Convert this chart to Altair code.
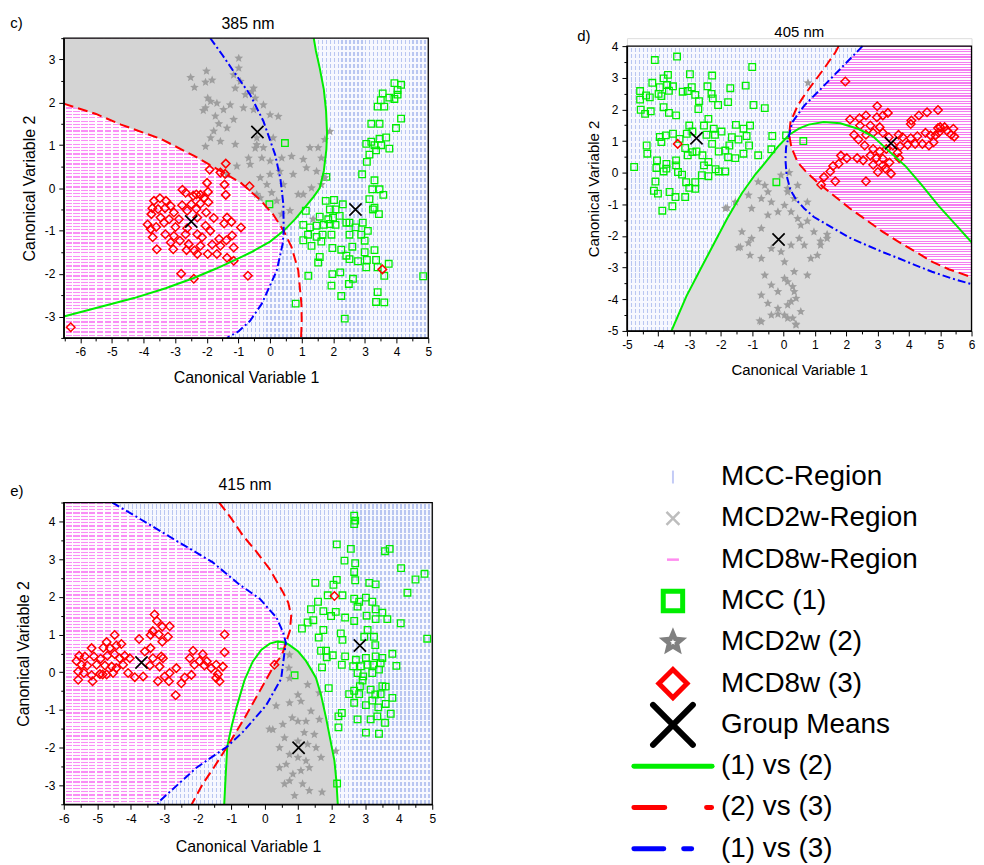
import math
import altair as alt
import pandas as pd

FONT = "Liberation Sans"
GREEN = "#00ee00"
RED = "#ff0000"
BLUE = "#0000ff"
STAR_GREY = "#9e9e9e"

# ------------------------------------------------------------------ panel c) 385 nm
c_mcc = [(3.93,2.45),(4.14,2.41),(4.03,2.29),(3.56,2.21),(3.77,2.11),(3.93,2.08),(4.03,2.18),(3.40,1.90),(3.61,1.90),
         (3.50,2.05),(4.14,1.62),(3.20,1.50),(3.46,1.50),(3.98,1.40),(3.67,1.18),(3.46,1.15),(3.20,1.08),(3.04,1.03),
         (3.30,1.00),(3.51,1.00),(3.77,0.92),(3.35,0.88),(3.14,0.78),(3.06,0.61),(2.91,0.32),(3.30,0.18),(3.23,-0.03),
         (3.46,-0.03),(3.58,-0.16),(3.14,-0.26),(3.30,-0.46),(3.44,-0.61),(3.25,-0.50),(0.47,1.05),(1.78,0.26),
         (1.76,-0.30),(2.02,-0.28),(2.30,-0.38),(1.13,-0.53),(1.89,-0.50),(2.07,-0.50),(1.57,-0.67),(1.84,-0.73),
         (1.99,-0.69),(2.20,-0.65),(2.41,-0.81),(1.05,-0.86),(1.26,-0.92),(1.47,-0.88),(1.70,-0.86),(1.89,-0.84),
         (2.07,-0.86),(2.51,-0.81),(2.70,-0.92),(2.93,-0.81),(3.09,-1.00),(1.20,-1.09),(1.47,-1.14),(1.66,-1.09),
         (1.94,-1.09),(2.51,-1.09),(2.88,-1.09),(1.05,-1.22),(1.62,-1.25),(1.31,-1.35),(2.99,-1.23),(1.97,-1.40),
         (2.25,-1.44),(2.60,-1.37),(2.99,-1.50),(3.30,-1.45),(2.41,-1.58),(1.57,-1.61),(2.51,-1.66),(2.78,-1.71),
         (3.06,-1.68),(3.35,-1.68),(1.52,-1.74),(3.04,-1.85),(3.40,-1.85),(3.75,-1.77),(3.61,-2.05),(1.21,-2.05),
         (1.97,-2.01),(2.22,-1.97),(2.62,-2.12),(2.49,-2.24),(1.94,-2.28),(0.81,-2.70),(3.40,-2.43),(3.35,-2.66),
         (3.61,-2.67),(2.25,-2.52),(2.36,-3.05),(4.84,-2.06),(-0.02,-0.38)]
c_mcd2w = [(-2.51,2.58),(-2.39,2.35),(-2.01,2.73),(-2.04,2.47),(-1.83,2.52),(-1.97,2.10),(-2.04,1.87),(-1.88,2.02),
           (-2.11,1.81),(-1.68,1.98),(-1.73,1.68),(-1.62,1.50),(-1.78,1.33),(-2.04,0.97),(-1.88,1.17),(-1.57,1.09),
           (-1.47,1.83),(-1.26,1.94),(-1.15,1.60),(-1.36,1.40),(-1.10,1.02),(-0.99,3.03),(-0.99,2.80),(-1.15,2.64),
           (-1.10,2.33),(-0.94,2.49),(-0.78,2.18),(-0.84,1.87),(-0.58,2.25),(-0.52,1.83),(-0.42,1.17),(-0.68,0.70),
           (-0.47,0.93),(-1.05,0.51),(-1.36,0.32),(-0.52,2.33),(-0.47,2.10),(-0.21,1.94),(0.00,1.71),(0.26,1.67),
           (-0.42,1.01),(-0.21,0.94),(0.10,1.17),(-0.26,0.70),(-0.63,0.55),(0.00,0.63),(0.37,0.70),(0.68,0.74),
           (1.05,0.67),(1.26,0.94),(1.52,0.94),(1.62,0.70),(1.47,0.39),(1.15,0.47),(0.73,0.32),(0.31,0.39),
           (0.00,0.32),(-0.31,0.24),(-0.10,0.08),(0.42,0.08),(0.89,-0.15),(1.31,0.00),(1.73,0.24),(1.89,1.32),
           (1.73,1.13),(1.62,0.08),(0.05,-0.11),(-0.31,-0.23),(0.21,-0.30),(0.37,-0.61),(0.63,-0.53),(1.36,-0.73),
           (1.05,-0.15),(-0.42,-0.15)]
c_mcd8w = [(-1.40,0.57),(-1.91,0.43),(-1.57,0.36),(-1.42,0.33),(-1.99,0.12),(-0.65,0.04),(-1.44,0.08),(-1.40,-0.16),
           (-2.77,-0.04),(-2.67,-0.11),(-1.96,-0.09),(-2.20,-0.16),(-2.43,-0.18),(-2.33,-0.15),(-2.09,-0.23),
           (-3.67,-0.30),(-3.48,-0.24),(-3.29,-0.30),(-2.78,-0.40),(-2.49,-0.38),(-2.20,-0.36),(-1.95,-0.33),
           (-3.72,-0.47),(-3.54,-0.49),(-3.32,-0.47),(-3.14,-0.42),(-3.04,-0.57),(-2.62,-0.53),(-2.33,-0.49),
           (-2.02,-0.57),(-3.75,-0.61),(-3.46,-0.69),(-3.19,-0.73),(-2.88,-0.73),(-2.30,-0.69),(-1.78,-0.70),
           (-1.36,-0.69),(-1.22,-0.79),(-3.87,-0.85),(-3.60,-0.91),(-3.35,-0.81),(-2.99,-0.91),(-2.62,-0.94),
           (-2.04,-0.88),(-1.45,-0.83),(-0.92,-0.92),(-3.77,-0.96),(-3.31,-1.08),(-3.04,-1.12),(-2.67,-1.08),
           (-2.30,-1.08),(-1.89,-1.00),(-1.61,-1.19),(-1.20,-1.11),(-3.71,-1.15),(-3.14,-1.27),(-2.85,-1.23),
           (-2.15,-1.15),(-2.57,-1.31),(-2.20,-1.35),(-1.83,-1.32),(-1.57,-1.35),(-1.38,-1.22),(-1.15,-1.39),
           (-3.58,-1.43),(-3.06,-1.43),(-2.64,-1.45),(-2.30,-1.54),(-1.97,-1.54),(-1.68,-1.54),(-1.36,-1.63),
           (-1.15,-1.70),(-2.39,-1.46),(-2.81,-2.00),(-2.41,-2.12),(-0.70,-2.05),(-6.30,-3.25),(3.55,-1.90)]
c_means = [(2.70,-0.50),(-0.40,1.31),(-2.49,-0.78)]
c_green_a = [(-6.52,-3.0),(-5.5,-2.8),(-4.3,-2.57),(-3.3,-2.34),(-2.41,-2.1),(-1.7,-1.88),(-1.1,-1.68),(-0.6,-1.5),
             (0.0,-1.25),(0.43,-1.0)]
c_green_b = [(0.43,-1.0),(0.8,-0.72),(1.05,-0.5),(1.38,-0.2),(1.57,0.0),(1.70,0.4),(1.78,0.9),(1.80,1.3),(1.77,1.8),
             (1.70,2.3),(1.57,2.8),(1.45,3.2),(1.38,3.5)]
c_red_a = [(-6.52,1.97),(-5.5,1.73),(-4.71,1.48),(-3.46,1.15),(-2.4,0.75),(-1.57,0.40),(-0.92,0.12),(-0.28,-0.3),
           (0.1,-0.62),(0.43,-1.0)]
c_red_b = [(0.43,-1.0),(0.68,-1.38),(0.89,-1.92),(0.99,-2.7),(1.0,-3.1),(0.98,-3.5)]
c_blue_a = [(-1.89,3.5),(-1.5,3.1),(-1.15,2.72),(-0.63,2.18),(-0.21,1.56),(0.16,0.78),(0.33,0.2),(0.42,-0.38),(0.43,-1.0)]
c_blue_b = [(0.43,-1.0),(0.40,-1.3),(0.21,-1.93),(-0.26,-2.70),(-0.63,-3.1),(-1.0,-3.35),(-1.36,-3.5)]

# ------------------------------------------------------------------ panel d) 405 nm
d_mcc = [(-4.11,3.56),(-3.40,3.67),(-1.00,3.34),(-3.69,3.09),(-3.83,2.98),(-4.19,2.84),(-3.95,2.70),(-3.72,2.77),
         (-3.53,2.73),(-2.99,3.11),(-2.28,3.07),(-2.43,2.73),(-1.70,2.67),(-1.21,2.75),(-4.58,2.58),(-4.39,2.44),
         (-4.27,2.38),(-4.58,2.31),(-3.99,2.49),(-3.90,2.42),(-3.66,2.59),(-3.22,2.56),(-3.06,2.58),(-2.93,2.70),
         (-2.82,2.46),(-2.30,2.49),(-2.26,2.35),(-2.70,2.26),(-2.09,2.14),(-1.77,2.23),(-0.96,2.14),(-0.60,2.04),
         (-4.56,1.99),(-4.42,1.86),(-4.24,1.94),(-3.83,2.07),(-3.66,1.89),(-3.43,1.81),(-2.72,2.01),(-2.40,1.70),
         (-3.01,1.49),(-2.54,1.49),(-2.23,1.39),(-1.52,1.51),(-1.28,1.39),(-1.07,1.49),(-3.95,1.13),(-3.76,1.18),
         (-3.53,1.23),(-3.90,0.97),(-3.32,1.07),(-3.09,1.23),(-2.91,1.30),(-2.46,1.20),(-2.19,1.20),(-1.98,1.30),
         (-1.65,1.12),(-1.44,1.05),(-1.18,1.16),(-4.37,0.86),(-4.35,0.60),(-4.04,0.39),(-3.74,0.28),(-3.43,0.39),
         (-3.14,0.78),(-2.91,0.65),(-3.06,0.55),(-2.78,0.67),(-2.59,0.55),(-2.28,0.91),(-2.07,0.67),(-1.86,0.70),
         (-1.73,0.86),(-1.77,0.49),(-1.54,0.46),(-1.28,0.60),(-1.10,0.86),(-0.81,0.55),(-0.39,0.74),(-0.36,1.16),
         (0.08,1.18),(-4.77,0.18),(-4.06,0.15),(-3.83,0.04),(-3.74,0.13),(-3.43,0.23),(-3.37,0.02),(-3.24,-0.06),
         (-2.54,0.23),(-2.40,0.34),(-2.17,0.11),(-2.07,0.04),(-1.86,0.04),(-2.61,-0.08),(-2.40,-0.11),(-3.11,-0.30),
         (-2.82,-0.30),(-4.09,-0.28),(-4.14,-0.57),(-4.01,-0.66),(-3.64,-0.61),(-3.45,-0.77),(-3.14,-0.77),
         (-3.55,-1.06),(-3.87,-1.20),(-0.23,-0.30),(-3.01,-0.48),(-2.82,-0.51),(0.63,1.00)]
d_mcd2w = [(-1.86,-1.13),(-1.54,-0.93),(-1.12,-0.71),(-0.81,-0.29),(-0.60,-0.40),(-0.50,-0.61),(-0.71,-0.82),
           (-0.39,-0.93),(-1.02,-1.13),(-1.33,-1.87),(-1.02,-2.08),(-0.71,-1.76),(-0.50,-1.34),(-0.18,-1.24),
           (0.03,-1.03),(0.24,-1.24),(0.34,-0.82),(0.13,-0.50),(-0.08,-0.08),(0.45,-0.40),(-1.38,-2.35),(-1.07,-2.61),
           (-0.71,-2.71),(-0.39,-2.40),(-0.08,-2.50),(0.24,-2.29),(0.03,-2.82),(-0.60,-3.24),(-0.39,-3.55),
           (-0.18,-3.76),(0.03,-3.34),(0.34,-3.13),(0.29,-3.60),(-0.71,-3.87),(-0.50,-4.13),(-0.18,-4.29),
           (0.13,-4.18),(0.40,-3.97),(-0.71,-4.71),(-0.39,-4.50),(0.03,-4.50),(0.29,-4.60),(0.78,2.84),(0.18,0.00),
           (0.13,-0.61),(0.76,-0.93),(0.55,-1.66),(0.97,-1.87),(1.18,-2.29),(0.66,-2.29),(0.87,-2.71),(1.08,-2.61),
           (1.39,-2.08),(0.76,-3.24),(0.13,-3.45),(0.34,-3.76),(0.55,-4.39),(0.13,-4.60),(0.40,-4.81),(0.24,-4.07),
           (0.45,-1.45),(0.50,-2.08),(-0.76,-4.68),(-0.18,-4.47),(0.39,-4.79),(-1.80,-1.11),(-1.44,-2.37),
           (-1.12,-2.22),(1.18,-2.16),(1.39,-1.95),(0.76,-1.53)]
d_mcd8w = [(1.97,2.88),(2.99,2.10),(3.33,1.89),(3.17,1.81),(2.63,1.81),(2.42,1.72),(2.12,1.68),(2.98,1.75),(4.58,1.91),
           (4.93,1.98),(4.32,1.81),(4.08,1.65),(4.06,1.54),(2.44,1.49),(2.25,1.20),(2.77,1.49),(3.07,1.44),(2.86,1.26),
           (2.63,1.20),(2.39,1.05),(3.17,1.26),(3.36,1.12),(3.67,1.20),(3.80,1.12),(4.06,1.09),(4.27,1.15),(4.53,1.26),
           (4.69,1.18),(4.95,1.26),(5.14,1.44),(5.35,1.20),(5.42,1.39),(5.21,1.33),(4.79,0.96),(4.43,0.91),(4.20,0.91),
           (3.96,0.88),(3.72,0.84),(2.59,0.86),(2.86,0.75),(3.07,0.67),(3.28,0.75),(3.49,0.86),(3.64,0.63),(3.69,0.46),
           (3.38,0.32),(3.17,0.44),(2.96,0.46),(2.77,0.54),(2.54,0.39),(2.35,0.46),(2.02,0.46),(1.83,0.54),(1.76,0.28),
           (1.58,0.21),(1.49,0.04),(1.29,-0.14),(1.65,-0.27),(1.20,-0.38),(2.63,-0.27),(2.86,0.25),(3.01,0.02),
           (3.25,0.13),(3.43,-0.03),(3.17,0.23),(4.64,0.86),(4.85,1.18),(5.00,1.44),(5.45,1.14),(4.93,1.41),(-3.38,0.91)]
d_means = [(-2.78,1.09),(-0.16,-2.11),(3.43,0.93)]
d_green_a = [(-3.58,-5.0),(-3.1,-3.9),(-2.6,-2.95),(-2.2,-2.2),(-1.8,-1.45),(-1.33,-0.65),(-0.9,-0.05),(-0.6,0.3),
             (-0.2,0.8),(0.18,1.2)]
d_green_b = [(0.18,1.2),(0.5,1.4),(0.8,1.52),(1.28,1.6),(1.81,1.56),(2.4,1.38),(2.86,1.14),(3.4,0.65),(3.9,0.2),
             (4.4,-0.38),(4.95,-1.05),(5.5,-1.65),(6.0,-2.2)]
d_red_a = [(0.18,1.2),(0.22,1.6),(0.45,2.12),(0.7,2.5),(0.97,2.86),(1.3,3.3),(1.65,3.8),(1.76,4.0)]
d_red_b = [(0.18,1.2),(0.25,0.8),(0.45,0.33),(0.7,0.05),(1.08,-0.3),(1.6,-0.72),(2.12,-1.13),(2.65,-1.5),(3.17,-1.87),
           (3.7,-2.2),(4.22,-2.5),(4.75,-2.82),(5.27,-3.05),(6.0,-3.3)]
d_blue_a = [(0.18,1.2),(0.28,1.6),(0.66,2.12),(1.29,2.75),(1.91,3.38),(2.52,4.0)]
d_blue_b = [(0.18,1.2),(0.08,0.8),(0.06,0.4),(0.1,-0.1),(0.22,-0.55),(0.4,-0.85),(0.66,-1.13),(0.97,-1.4),(1.6,-1.76),
            (2.1,-2.05),(2.65,-2.29),(3.2,-2.52),(3.69,-2.71),(4.2,-2.92),(4.74,-3.13),(5.4,-3.35),(6.0,-3.52)]

# ------------------------------------------------------------------ panel e) 415 nm
e_mcc = [(2.67,4.15),(2.67,3.93),(2.70,4.02),(2.15,3.39),(2.57,3.27),(3.59,3.21),(3.73,3.27),(2.38,2.96),(2.70,2.89),
         (4.07,2.76),(2.67,2.66),(2.70,2.44),(4.77,2.61),(4.50,2.46),(1.51,2.37),(2.05,2.32),(2.15,2.45),(3.12,2.37),
         (3.31,2.33),(4.26,2.11),(1.88,2.04),(2.32,2.04),(2.67,1.95),(3.02,1.98),(2.82,1.87),(3.21,1.87),(1.59,1.87),
         (2.77,1.74),(1.38,1.67),(1.75,1.62),(2.12,1.60),(1.98,1.49),(2.40,1.45),(3.04,1.50),(3.31,1.67),(3.51,1.58),
         (3.31,1.41),(3.66,1.41),(4.06,1.30),(2.67,1.36),(1.45,1.38),(1.28,1.32),(1.11,1.16),(1.75,1.12),(3.07,1.12),
         (2.27,1.03),(2.32,0.86),(2.97,0.94),(3.26,0.94),(1.61,0.92),(3.30,0.72),(4.85,0.89),(1.68,0.57),(1.83,0.57),
         (2.03,0.45),(1.85,0.40),(2.40,0.42),(3.31,0.42),(3.51,0.38),(3.81,0.49),(2.72,0.33),(3.02,0.38),(2.30,0.20),
         (2.64,0.16),(2.87,0.16),(3.07,0.20),(3.24,0.20),(3.46,0.24),(3.41,0.07),(3.21,-0.02),(2.77,-0.02),
         (2.94,-0.11),(1.71,0.13),(3.93,0.17),(0.89,-0.08),(2.92,-0.22),(2.84,-0.37),(3.51,-0.37),(3.61,-0.38),
         (1.91,-0.42),(2.52,-0.58),(2.67,-0.49),(2.82,-0.58),(3.16,-0.46),(3.30,-0.59),(3.46,-0.58),(3.81,-0.68),
         (2.67,-0.81),(3.02,-0.87),(3.21,-0.75),(3.39,-0.93),(3.61,-0.84),(3.76,-1.10),(2.30,-1.08),(2.20,-1.17),
         (2.20,-1.46),(2.77,-1.25),(3.16,-1.25),(3.36,-1.17),(3.59,-1.34),(3.02,-1.60),(3.41,-1.63),(2.16,-2.95),
         (0.49,0.71)]
e_mcd2w = [(0.74,0.46),(0.72,0.11),(0.74,-0.16),(1.28,-0.33),(1.63,-0.55),(0.99,-0.60),(0.74,-0.81),(1.08,-0.77),
           (1.38,-1.03),(1.63,-1.25),(0.24,-1.52),(0.54,-1.38),(0.82,-1.21),(0.99,-1.30),(1.23,-1.30),(1.18,-1.60),
           (0.59,-1.74),(1.48,-1.65),(1.53,-2.00),(1.68,-2.26),(2.12,-2.09),(0.44,-2.00),(0.74,-2.18),(0.99,-2.26),
           (1.23,-2.35),(0.64,-2.44),(0.84,-2.70),(1.08,-2.61),(1.33,-2.53),(0.74,-2.88),(1.13,-2.96),(0.89,-3.27),
           (1.71,-3.18),(1.33,-3.14),(0.44,-2.53),(0.59,-2.96),(0.99,-1.83),(1.28,-1.91),(0.34,-0.89),(0.14,-1.51)]
e_mcd8w = [(-3.29,1.53),(-3.22,1.36),(-3.06,1.21),(-2.84,1.22),(-3.34,1.09),(-3.16,1.00),(-2.89,0.94),(-3.06,0.81),
           (-3.41,0.99),(-3.75,0.88),(-4.48,0.99),(-4.72,0.80),(-4.62,0.64),(-4.43,0.71),(-4.28,0.75),(-5.17,0.64),
           (-4.82,0.65),(-5.54,0.44),(-5.37,0.42),(-5.10,0.42),(-4.90,0.36),(-4.70,0.44),(-4.48,0.48),(-4.33,0.37),
           (-4.18,0.44),(-4.03,0.37),(-3.58,0.55),(-3.41,0.64),(-3.34,0.37),(-3.09,0.42),(-3.04,0.37),(-5.62,0.30),
           (-5.47,0.20),(-5.30,0.18),(-5.02,0.20),(-4.77,0.18),(-4.57,0.15),(-4.43,0.11),(-4.23,0.20),(-5.57,0.02),
           (-5.40,-0.02),(-5.17,-0.08),(-4.92,-0.05),(-4.72,-0.06),(-4.53,-0.02),(-4.08,-0.02),(-3.88,-0.13),
           (-3.63,-0.11),(-3.43,0.18),(-3.14,0.15),(-5.57,-0.20),(-5.14,-0.24),(-4.84,-0.06),(-3.19,-0.24),
           (-2.99,-0.11),(-2.84,-0.02),(-2.64,0.11),(-2.86,-0.24),(-2.49,-0.29),(-2.39,-0.14),(-2.19,-0.07),
           (-2.66,-0.61),(-2.14,0.57),(-2.10,0.20),(-1.85,0.48),(-1.95,0.30),(-1.80,0.18),(-1.60,0.11),(-1.45,0.20),
           (-1.25,0.15),(-1.40,-0.05),(-1.35,-0.24),(-1.45,-0.15),(-1.20,1.00),(-1.20,0.53),(-2.24,0.37),(-1.73,0.29),
           (2.08,2.02),(0.29,0.20)]
e_means = [(2.84,0.71),(1.01,-2.00),(-3.68,0.26)]
e_green_a = [(-1.21,-3.5),(-1.17,-2.8),(-1.12,-1.97)]
e_green_b = [(-1.12,-1.97),(-0.98,-1.4),(-0.85,-0.95),(-0.6,-0.2),(-0.36,0.28),(-0.1,0.6),(0.15,0.76),(0.4,0.82),
             (0.63,0.78)]
e_green_c = [(0.63,0.78),(0.74,0.72),(1.0,0.55),(1.23,0.3),(1.4,0.05),(1.53,-0.15),(1.68,-0.6),(1.83,-1.21),
             (1.96,-1.8),(2.08,-2.35),(2.14,-2.9),(2.18,-3.5)]
e_red_a = [(-1.36,4.5),(-1.0,4.08),(-0.65,3.62),(-0.25,3.2),(0.14,2.74),(0.54,2.13),(0.7,1.85),(0.79,1.5),(0.75,1.1),
           (0.63,0.78)]
e_red_b = [(0.63,0.78),(0.55,0.55),(0.44,0.37),(0.29,0.2),(-0.15,-0.5),(-0.6,-1.21),(-1.12,-1.97)]
e_red_c = [(-1.12,-1.97),(-1.5,-2.5),(-1.85,-2.96),(-2.18,-3.5)]
e_blue_a = [(-4.55,4.5),(-3.54,3.97),(-2.55,3.44),(-1.56,2.92),(-0.75,2.32),(-0.15,1.95),(0.35,1.45),(0.55,1.05),
            (0.63,0.78)]
e_blue_b = [(0.63,0.78),(0.59,0.53),(0.49,-0.17),(0.04,-0.88),(-0.65,-1.58),(-1.12,-1.97)]
e_blue_c = [(-1.12,-1.97),(-2.04,-2.53),(-3.13,-3.41),(-3.2,-3.5)]

# ------------------------------------------------------------------ legend
leg_labels = ["MCC-Region", "MCD2w-Region", "MCD8w-Region", "MCC (1)", "MCD2w (2)", "MCD8w (3)",
              "Group Means", "(1) vs (2)", "(2) vs (3)", "(1) vs (3)"]

# ------------------------------------------------------------------ helpers
ONE = pd.DataFrame({"a": [0]})
LABEL_EXPR = "datum.value % 1 === 0 ? '' + datum.value : ''"
TICK_SIZE = {"condition": {"test": "datum.value % 1 === 0", "value": 5}, "value": 3}
XPATH = "M-1,-1L1,1M-1,1L1,-1"
CLEAR = "rgba(255,255,255,0)"


def star_path(ri=0.45):
    pts = []
    for k in range(10):
        r = 1.0 if k % 2 == 0 else ri
        a = -math.pi / 2 + k * math.pi / 5
        pts.append(f"{r * math.cos(a):.3f},{r * math.sin(a):.3f}")
    return "M" + "L".join(pts) + "Z"


STAR = star_path()


def df(pts):
    return pd.DataFrame({"x": [p[0] for p in pts], "y": [p[1] for p in pts], "i": list(range(len(pts)))})


def rev(pts):
    return list(reversed(pts))


def rect(xdom, ydom):
    return [(xdom[0], ydom[0]), (xdom[0], ydom[1]), (xdom[1], ydom[1]), (xdom[1], ydom[0])]


def half(lo, hi):
    return [k / 2 for k in range(math.ceil(lo * 2 - 1e-9), math.floor(hi * 2 + 1e-9) + 1)]


def stripes(n, frac, line_col, bg_col, vertical):
    stops = []
    for k in range(n):
        a, b, c = k / n, (k + frac) / n, (k + 1) / n
        stops += [{"offset": round(a, 5), "color": line_col}, {"offset": round(b, 5), "color": line_col},
                  {"offset": round(b, 5), "color": bg_col}, {"offset": round(c, 5), "color": bg_col}]
    return {"gradient": "linear", "x1": 0, "y1": 0, "x2": 1 if vertical else 0, "y2": 0 if vertical else 1,
            "stops": stops}


def px_extent(pts, P):
    xs = [p[0] for p in pts]
    ys = [p[1] for p in pts]
    wpx = (max(xs) - min(xs)) * P["W"] / (P["xdom"][1] - P["xdom"][0])
    hpx = (max(ys) - min(ys)) * P["PH"] / (P["ydom"][1] - P["ydom"][0])
    return wpx, hpx


def region_fills(kind, pts, P):
    """main fill plus optional overlay that breaks hatch lines into dashes"""
    if kind == "grey":
        return P["grey"], None
    wpx, hpx = px_extent(pts, P)
    if kind == "pink":
        sp, frac, col, dashed = P["pink"]
        main = stripes(max(1, round(hpx / sp)), frac, col, "#fffaff", False)
        over = stripes(max(1, round(wpx / 8.0)), 0.22, "#ffffff", CLEAR, True) if dashed else None
        return main, over
    main = stripes(max(1, round(wpx / 4.0)), 0.34, "#b9c6f1", "#f5f7fe", True)
    over = stripes(max(1, round(hpx / 6.0)), 0.28, "#f8f9ff", CLEAR, False)
    return main, over


def make_axis(kind, P):
    common = dict(values=half(*(P["xdom"] if kind == "x" else P["ydom"])), labelExpr=LABEL_EXPR,
                  tickSize=TICK_SIZE, tickColor="black", tickWidth=1, domainColor="black", domainWidth=1.3,
                  labelFont=FONT, labelFontSize=12, labelColor="black", labelFlush=False, labelOverlap=False,
                  labelPadding=4, titleFont=FONT, titleFontSize=P["tfs"], titleFontWeight="normal",
                  titleColor="black", grid=False, zindex=1, titleAlign="center", titleBaseline="middle")
    if kind == "x":
        return alt.Axis(title="Canonical Variable 1", titleX=P["W"] / 2, titleY=P["xt"], **common)
    return alt.Axis(title="Canonical Variable 2", titleAngle=270, titleX=P["yt"],
                    titleY=P["top"] + P["PH"] / 2, **common)


def panel_layers(P):
    W, top, PH = P["W"], P["top"], P["PH"]
    X = alt.X("x:Q", scale=alt.Scale(domain=P["xdom"], nice=False, zero=False), axis=make_axis("x", P))
    Y = alt.Y("y:Q", scale=alt.Scale(domain=P["ydom"], range=[top + PH, top], nice=False, zero=False),
              axis=make_axis("y", P))
    L = []
    for pts, kind in P["regions"]:
        main, over = region_fills(kind, pts, P)
        if kind == "grey":
            mk = dict(fill=main, stroke=main, strokeWidth=0.6)
        else:
            mk = dict(fill=main, strokeWidth=0, strokeOpacity=0)
        L.append(alt.Chart(df(pts)).mark_line(clip=True, **mk).encode(x=X, y=Y, order="i:Q"))
        if over is not None:
            L.append(alt.Chart(df(pts)).mark_line(clip=True, fill=over, strokeWidth=0, strokeOpacity=0)
                     .encode(x=X, y=Y, order="i:Q"))
    L.append(alt.Chart(df(P["mcc"])).mark_point(shape="square", filled=False, color=GREEN, size=44,
                                                 strokeWidth=1.3, opacity=1, clip=True).encode(x=X, y=Y))
    L.append(alt.Chart(df(P["mcd2w"])).mark_point(shape=STAR, filled=True, color=STAR_GREY, size=85,
                                                   strokeWidth=0, opacity=1, clip=True).encode(x=X, y=Y))
    L.append(alt.Chart(df(P["mcd8w"])).mark_point(shape="diamond", filled=False, color=RED, size=72,
                                                   strokeWidth=1.5, opacity=1, clip=True).encode(x=X, y=Y))
    for pts, col, dash in P["curves"]:
        kw = dict(color=col, strokeWidth=2, clip=True)
        if dash:
            kw["strokeDash"] = dash
        L.append(alt.Chart(df(pts)).mark_line(**kw).encode(x=X, y=Y, order="i:Q"))
    L.append(alt.Chart(df(P["means"])).mark_point(shape=XPATH, filled=False, color="black", size=150,
                                                   strokeWidth=1.7, opacity=1, clip=True).encode(x=X, y=Y))
    # frame
    L.append(alt.Chart(ONE).mark_rect(fillOpacity=0, stroke="black", strokeWidth=1.3)
             .encode(x=alt.value(0), x2=alt.value(W), y=alt.value(top), y2=alt.value(top + PH)))
    # panel letter and title
    lx, ly, lfs = P["letter_pos"]
    L.append(alt.Chart(ONE).mark_text(text=P["letter"], font=FONT, fontSize=lfs, align="left", baseline="middle",
                                      color="black").encode(x=alt.value(lx), y=alt.value(top + ly)))
    tx, ty, tfs = P["title_pos"]
    L.append(alt.Chart(ONE).mark_text(text=P["title"], font=FONT, fontSize=tfs, align="center", baseline="middle",
                                      color="black").encode(x=alt.value(tx), y=alt.value(top + ty)))
    # invisible layout anchors
    for ax, ay in P["anchors"]:
        L.append(alt.Chart(ONE).mark_point(size=1, opacity=0, strokeWidth=0)
                 .encode(x=alt.value(ax), y=alt.value(ay)))
    return L


# ------------------------------------------------------------------ panels
c_xdom, c_ydom = [-6.52, 5.0], [-3.5, 3.5]
Pc = dict(W=366, PH=301, top=0, xdom=c_xdom, ydom=c_ydom, tfs=16, xt=40, yt=-34.7,
          grey="#d4d4d4", pink=(3.3, 0.36, "#f98ef5", True),
          regions=[(rect(c_xdom, c_ydom), "pink"),
                   ([(c_xdom[0], c_ydom[1])] + c_red_a + c_green_b[1:], "grey"),
                   (c_green_b + [(c_xdom[1], c_ydom[1]), (c_xdom[1], c_ydom[0])] + rev(c_blue_b), "blue")],
          curves=[(c_green_a + c_green_b[1:], GREEN, None),
                  (c_red_a + c_red_b[1:], RED, [10, 5]),
                  (c_blue_a + c_blue_b[1:], BLUE, [8, 3, 2, 3])],
          mcc=c_mcc, mcd2w=c_mcd2w, mcd8w=c_mcd8w, means=c_means,
          letter="c)", letter_pos=(-53.7, -15.3, 15), title="385 nm", title_pos=(185, -14.3, 16),
          anchors=[(-54.5, 0), (0, -26), (372, 0), (0, 351)])

d_xdom, d_ydom = [-5.0, 6.0], [-5.0, 4.0]
DW = 346
Pd = dict(W=DW, PH=286, top=8, xdom=d_xdom, ydom=d_ydom, tfs=15, xt=38.3, yt=-33.3,
          grey="#dcdcdc", pink=(2.6, 0.42, "#f47cf0", False),
          regions=[(rect(d_xdom, d_ydom), "grey"),
                   ([(d_xdom[0], d_ydom[1])] + rev(d_blue_a) + rev(d_green_a)[1:] + [(d_xdom[0], d_ydom[0])],
                    "blue"),
                   ([(d_xdom[1], d_ydom[1])] + rev(d_red_b) + d_blue_a[1:], "pink")],
          curves=[(d_green_a + d_green_b[1:], GREEN, None),
                  (rev(d_red_a) + d_red_b[1:], RED, [10, 5]),
                  (rev(d_blue_a) + d_blue_b[1:], BLUE, [8, 3, 2, 3])],
          mcc=d_mcc, mcd2w=d_mcd2w, mcd8w=d_mcd8w, means=d_means,
          letter="d)", letter_pos=(-50, -10.3, 15), title="405 nm", title_pos=(DW / 2, -14.3, 15),
          anchors=[(-50.5, 0), (DW + 3, 0)])

e_xdom, e_ydom = [-6.0, 5.0], [-3.5, 4.5]
Pe = dict(W=370, PH=303, top=0, xdom=e_xdom, ydom=e_ydom, tfs=16, xt=42, yt=-40,
          grey="#d4d4d4", pink=(3.3, 0.36, "#f98ef5", True),
          regions=[(rect(e_xdom, e_ydom), "blue"),
                   ([(e_xdom[0], e_ydom[1])] + e_blue_a + e_red_b[1:] + e_blue_c[1:] + [(e_xdom[0], e_ydom[0])],
                    "pink"),
                   (e_green_c + e_green_a + rev(e_red_b)[1:], "grey")],
          curves=[(e_green_a + e_green_b[1:] + e_green_c[1:], GREEN, None),
                  (e_red_a + e_red_b[1:] + e_red_c[1:], RED, [10, 5]),
                  (e_blue_a + e_blue_b[1:] + e_blue_c[1:], BLUE, [8, 3, 2, 3])],
          mcc=e_mcc, mcd2w=e_mcd2w, mcd8w=e_mcd8w, means=e_means,
          letter="e)", letter_pos=(-53.7, -11.8, 15), title="415 nm", title_pos=(182, -17.3, 16),
          anchors=[(0, -41)])

chart_c = alt.layer(*panel_layers(Pc)).properties(width=Pc["W"], height=Pc["PH"])
chart_d = alt.layer(*panel_layers(Pd)).properties(width=Pd["W"], height=Pd["top"] + Pd["PH"])

# legend drawn beside panel e (own y scale, positions relative to panel e)
LY = alt.Scale(domain=[0, 9], range=[-25.6, 347.7], nice=False, zero=False)
SYM_X = 611.7
leg_df = pd.DataFrame({"row": list(range(len(leg_labels))), "label": leg_labels})


def row_df(r):
    return pd.DataFrame({"row": [r]})


def leg_sym(r, **mk):
    return alt.Chart(row_df(r)).mark_point(opacity=1, **mk).encode(
        x=alt.value(SYM_X), y=alt.Y("row:Q", scale=LY, axis=None))


def leg_line(r, col, dash=None):
    kw = dict(color=col, strokeWidth=5, strokeCap="round")
    if dash:
        kw["strokeDash"] = dash
    return alt.Chart(row_df(r)).mark_rule(**kw).encode(
        x=alt.value(572.5), x2=alt.value(651), y=alt.Y("row:Q", scale=LY, axis=None))


legend = alt.layer(
    alt.Chart(leg_df).mark_text(font=FONT, fontSize=28, align="left", baseline="middle", color="black").encode(
        x=alt.value(660), y=alt.Y("row:Q", scale=LY, axis=None), text="label:N"),
    leg_sym(0, shape="M0,-1L0,1", filled=False, color="#c3cbf6", size=169, strokeWidth=2),
    leg_sym(1, shape=XPATH, filled=False, color="#bdbdbd", size=169, strokeWidth=2.5),
    leg_sym(2, shape="M-1,0L1,0", filled=False, color="#ff8cf0", size=144, strokeWidth=2.5),
    leg_sym(3, shape="square", filled=False, color=GREEN, size=380, strokeWidth=5),
    leg_sym(4, shape=STAR, filled=True, color="#808080", size=900, strokeWidth=0),
    leg_sym(4, shape=STAR, filled=True, color="white", size=40, strokeWidth=0),
    leg_sym(5, shape="diamond", filled=False, color=RED, size=800, strokeWidth=5),
    leg_sym(6, shape=XPATH, filled=False, color="black", size=1600, strokeWidth=6, strokeCap="round"),
    leg_line(7, GREEN),
    leg_line(8, RED, [31, 42, 5, 60]),
    leg_line(9, BLUE, [30, 20, 8, 60]),
)

chart_e = alt.layer(alt.layer(*panel_layers(Pe)), legend).resolve_scale(y="independent").properties(
    width=Pe["W"], height=Pe["PH"])

chart = alt.vconcat(
    alt.hconcat(chart_c, chart_d, spacing=140.5),
    chart_e,
    spacing=72.3,
).properties(
    padding={"left": 0, "top": 1.5, "right": 0, "bottom": 0}
).configure_view(strokeWidth=0).configure(font=FONT)

chart.save("out.html", embed_options={"renderer": "svg", "actions": False})
